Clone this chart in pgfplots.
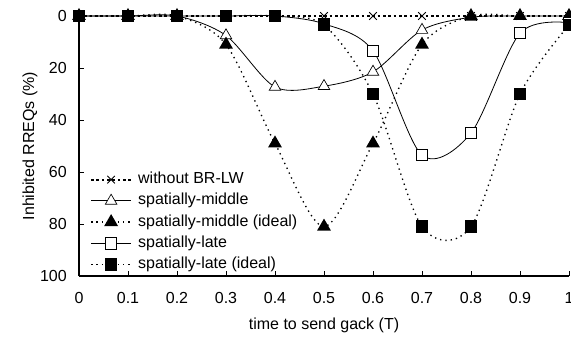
\documentclass[border=0pt]{standalone}
\usepackage{pgfplots}
\pgfplotsset{compat=1.18}
\usepackage{fontspec}
\setmainfont{Liberation Sans}
\begin{document}
\fontsize{12}{14}\selectfont
\begin{tikzpicture}
\begin{axis}[
  at={(0,0)}, anchor=south west,
  scale only axis, width=367.5pt, height=195pt,
  xmin=0, xmax=1, ymin=0, ymax=100,
  y dir=reverse,
  clip=false,
  axis x line*=bottom, axis y line*=left,
  axis line style={-, line width=0.8pt},
  xtick={0,0.1,...,1.01},
  xticklabels={0,0.1,0.2,0.3,0.4,0.5,0.6,0.7,0.8,0.9,1},
  ytick={0,20,40,60,80,100},
  tick align=inside,
  major tick length=4pt,
  tick style={line width=0.6pt, black},
  /pgf/number format/assume math mode=true,
  ticklabel style={font=\fontsize{12}{14}\selectfont},
  xticklabel shift=8pt,
  yticklabel shift=5pt,
  xlabel={time to send gack (T)},
  ylabel={Inhibited RREQs (\%)},
  every axis x label/.style={at={(axis description cs:0.5,-0.188)},anchor=center},
  every axis y label/.style={at={(axis description cs:-0.1,0.5)},rotate=90,anchor=center},
  legend cell align=left,
  legend style={at={(axis description cs:0.022,0.01)}, anchor=south west, draw=none, fill=none,
    inner sep=0pt, row sep=2.9pt, column sep=3.5pt,
    nodes={inner sep=1pt, text height=8.5pt, text depth=2.5pt, font=\fontsize{12}{14}\selectfont}},
  legend image code/.code={\draw[mark repeat=2,mark phase=2,#1] plot coordinates {(0pt,0pt) (15pt,0pt) (30pt,0pt)};},
]
\addplot[black, line width=1.6pt, dash pattern=on 2pt off 2pt, mark=x, mark size=4pt, mark options={solid, line width=0.6pt}]
  coordinates {(0,0)(0.1,0)(0.2,0)(0.3,0)(0.4,0)(0.5,0)(0.6,0)(0.7,0)(0.8,0)(0.9,0)(1,0)};
\addlegendentry{without BR-LW}
\addplot[black, line width=0.6pt, smooth, mark=triangle*, mark size=5pt, mark options={solid, fill=white, line width=0.5pt}]
  coordinates {(0,0)(0.1,0)(0.2,0)(0.3,7.5)(0.4,27.3)(0.5,27)(0.6,21.5)(0.7,5.4)(0.8,0.5)(0.9,0)(1,0)};
\addlegendentry{spatially-middle}
\addplot[black, line width=1pt, smooth, dash pattern=on 1pt off 3pt, mark=triangle*, mark size=5pt, mark options={solid, fill=black}]
  coordinates {(0,0)(0.1,0)(0.2,0)(0.3,11)(0.4,49)(0.5,81)(0.6,49)(0.7,11)(0.8,0)(0.9,0)(1,0)};
\addlegendentry{spatially-middle (ideal)}
\addplot[black, line width=0.6pt, smooth, mark=square*, mark size=4.2pt, mark options={solid, fill=white, line width=0.5pt}]
  coordinates {(0,0)(0.1,0)(0.2,0)(0.3,0)(0.4,0)(0.5,3)(0.6,13.4)(0.7,53.5)(0.8,45)(0.9,6.6)(1,2.6)};
\addlegendentry{spatially-late}
\addplot[black, line width=1pt, smooth, dash pattern=on 1pt off 3pt, mark=square*, mark size=4.2pt, mark options={solid, fill=black}]
  coordinates {(0,0)(0.1,0)(0.2,0)(0.3,0)(0.4,0)(0.5,3.5)(0.6,30)(0.7,81)(0.8,81)(0.9,30)(1,3.5)};
\addlegendentry{spatially-late (ideal)}
\end{axis}
\pgfresetboundingbox
\useasboundingbox (-59.25pt,-46.5pt) rectangle (369pt,207pt);
\end{tikzpicture}
\end{document}
